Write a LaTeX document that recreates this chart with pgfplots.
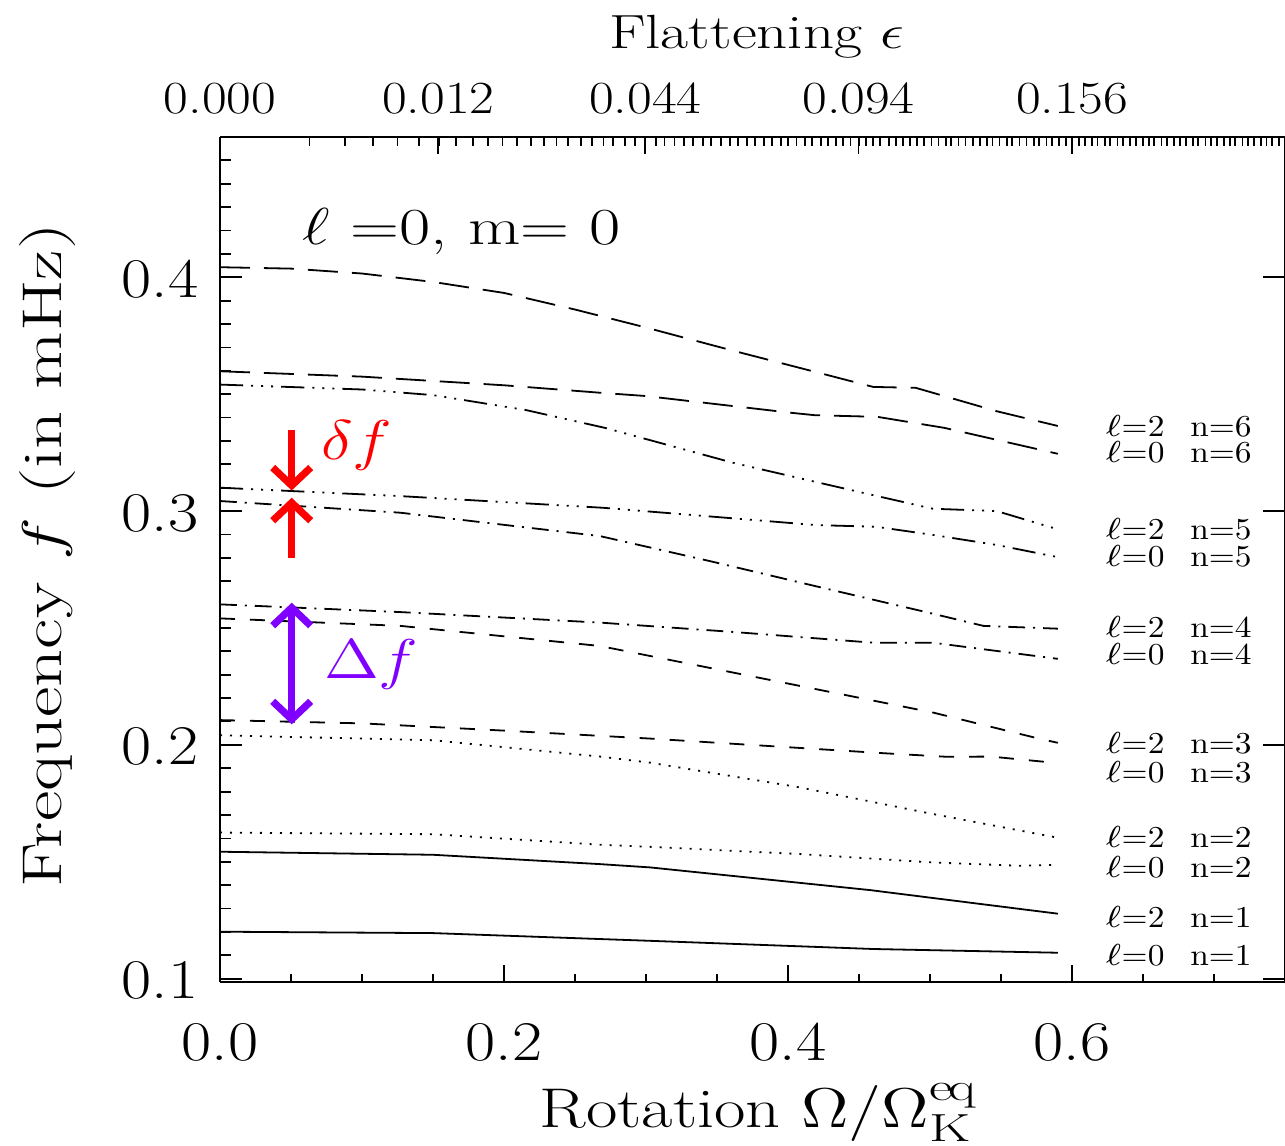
\RequirePackage{fix-cm}
\documentclass[border=0pt]{standalone}
\usepackage{fontspec}
\setmainfont{lmroman17-regular.otf}[FakeStretch=1.22]
\newfontfamily\tickfont{lmroman17-regular.otf}[FakeStretch=1.17]
\newfontfamily\ylabfont{lmroman17-regular.otf}[FakeStretch=1.33]
\newfontfamily\titfont{lmroman17-regular.otf}[FakeStretch=1.27]
\newfontfamily\labfont{lmroman10-regular.otf}[FakeStretch=1.1]
\usepackage{graphicx}
\usepackage{pgfplots}
\pgfplotsset{compat=1.18}
\usetikzlibrary{arrows.meta}
\definecolor{myred}{RGB}{255,0,0}
\definecolor{mypurple}{RGB}{128,0,255}
\newcommand\w[1]{\scalebox{1.2}[1]{#1}}
\newcommand\lab[2]{\scalebox{1.1}[1]{$\ell$}=#1\hspace{0.85em}n=#2}
\pgfplotsset{
  base/.style={
    scale only axis, width=266.25pt, height=211.3pt,
    xmin=0, xmax=0.75, ymin=0.0985, ymax=0.46,
    axis line style={line width=0.5pt, black},
    every tick/.style={line width=0.45pt, black},
    tick align=inside,
  },
  curve/.style={black, no markers, line width=0.45pt},
  ldash/.style={curve, dash pattern=on 7.5pt off 3.5pt},
  dddot/.style={curve, dash pattern=on 5.8pt off 2pt on 0.5pt off 2pt on 0.5pt off 2pt on 0.5pt off 2pt},
  ddot/.style={curve, dash pattern=on 4.2pt off 2pt on 0.5pt off 2pt},
  dsh/.style={curve, dash pattern=on 3.75pt off 3.75pt},
  dtt/.style={curve, dash pattern=on 0.5pt off 2pt},
}
\begin{document}
\begin{tikzpicture}
% ---- left y axis + data ----
\begin{axis}[base, axis y line*=left, hide x axis,
  ytick={0.1,0.2,0.3,0.4}, yticklabels={0.1,0.2,0.3,0.4},
  minor ytick={0.11,0.12,0.13,0.14,0.15,0.16,0.17,0.18,0.19,0.21,0.22,0.23,0.24,0.25,0.26,0.27,0.28,0.29,0.31,0.32,0.33,0.34,0.35,0.36,0.37,0.38,0.39,0.41,0.42,0.43,0.44,0.45},
  major tick length=5.5pt, minor tick length=2.75pt,
  yticklabel style={anchor=base east, inner sep=0pt, xshift=-5.25pt, yshift=-5pt, font=\tickfont\fontsize{14}{16}\selectfont},
  ylabel={Frequency \scalebox{1.3}[1]{$f$} (in mHz)},
  ylabel style={at={(axis description cs:-0.1484,0.505)}, anchor=base, font=\ylabfont\fontsize{14}{16}\selectfont},
]
% l=2 n=6
\addplot[ldash] coordinates {(0,0.4043)(0.05,0.4037)(0.1,0.4016)(0.15,0.3980)(0.2,0.3933)(0.25,0.3862)(0.3,0.3785)(0.36,0.3688)(0.42,0.3594)(0.46,0.3531)(0.49,0.3527)(0.547,0.3427)(0.59,0.3364)};
% l=0 n=6
\addplot[ldash] coordinates {(0,0.3598)(0.1,0.3575)(0.2,0.3538)(0.27,0.3505)(0.3,0.3492)(0.4028,0.3420)(0.419,0.3410)(0.463,0.3403)(0.51,0.3356)(0.59,0.3245)};
% l=2 n=5
\addplot[dddot] coordinates {(0,0.3541)(0.1,0.3520)(0.15,0.3496)(0.2155,0.3432)(0.271,0.3356)(0.361,0.3207)(0.42,0.3124)(0.46,0.3068)(0.502,0.3010)(0.547,0.3000)(0.59,0.2922)};
% l=0 n=5
\addplot[dddot] coordinates {(0,0.3100)(0.127,0.3064)(0.27,0.3014)(0.42,0.2940)(0.462,0.2933)(0.50,0.2900)(0.547,0.2855)(0.59,0.2803)};
% l=2 n=4
\addplot[ddot] coordinates {(0,0.3043)(0.127,0.2993)(0.2676,0.2893)(0.345,0.2786)(0.42,0.2678)(0.46,0.2621)(0.50,0.2564)(0.5376,0.2509)(0.59,0.2497)};
% l=0 n=4
\addplot[ddot] coordinates {(0,0.2601)(0.127,0.2568)(0.2676,0.2523)(0.3615,0.2483)(0.46,0.2437)(0.502,0.2437)(0.59,0.2368)};
% l=2 n=3
\addplot[dsh] coordinates {(0,0.2541)(0.127,0.2509)(0.2676,0.2423)(0.4085,0.2252)(0.5023,0.2138)(0.5786,0.2024)(0.59,0.2009)};
% l=0 n=3
\addplot[dsh] coordinates {(0,0.2106)(0.1,0.2092)(0.2,0.2061)(0.3028,0.2027)(0.4,0.1990)(0.4684,0.1964)(0.512,0.1949)(0.543,0.1950)(0.59,0.1922)};
% l=2 n=2
\addplot[dtt] coordinates {(0,0.2041)(0.15,0.2020)(0.2676,0.1950)(0.3028,0.1924)(0.4085,0.1818)(0.5023,0.1704)(0.59,0.1603)};
% l=0 n=2
\addplot[dtt] coordinates {(0,0.1625)(0.15,0.1618)(0.2676,0.1573)(0.3028,0.1564)(0.4085,0.1533)(0.5023,0.1497)(0.5634,0.1483)(0.59,0.1487)};
% l=2 n=1
\addplot[curve] coordinates {(0,0.1543)(0.15,0.1530)(0.2676,0.1490)(0.3028,0.1476)(0.4577,0.1379)(0.59,0.1278)};
% l=0 n=1
\addplot[curve] coordinates {(0,0.1201)(0.15,0.1195)(0.3028,0.1162)(0.46,0.1127)(0.59,0.1111)};
% annotations
\node[anchor=base west, inner sep=0pt, font=\fontsize{13}{15}\selectfont] at (axis cs:0.0577,0.4139) {\scalebox{1.07}[1]{\w{$\ell$} =0, m= 0}};
\draw[myred, line width=1.8pt, -{Straight Barb[length=4.5pt,width=9.5pt]}] (axis cs:0.0505,0.3346) -- (axis cs:0.0505,0.3088);
\draw[myred, line width=1.8pt, -{Straight Barb[length=4.5pt,width=9.5pt]}] (axis cs:0.0505,0.2800) -- (axis cs:0.0505,0.3057);
\draw[mypurple, line width=1.8pt, {Straight Barb[length=4.5pt,width=9.5pt]}-{Straight Barb[length=4.5pt,width=9.5pt]}] (axis cs:0.0505,0.2608) -- (axis cs:0.0505,0.2088);
\node[anchor=base west, text=myred, font=\fontsize{14}{16}\selectfont] at (axis cs:0.0613,0.3222) {\w{$\delta f$}};
\node[anchor=base west, text=mypurple, font=\fontsize{14}{16}\selectfont] at (axis cs:0.0634,0.2282) {\w{$\Delta f$}};
\begin{scope}[every node/.style={anchor=base west, inner sep=0pt, font=\labfont\fontsize{7.6}{9}\selectfont}]
\node at (axis cs:0.6232,0.3321) {\lab{2}{6}};
\node at (axis cs:0.6232,0.3206) {\lab{0}{6}};
\node at (axis cs:0.6232,0.2879) {\lab{2}{5}};
\node at (axis cs:0.6232,0.2765) {\lab{0}{5}};
\node at (axis cs:0.6232,0.2459) {\lab{2}{4}};
\node at (axis cs:0.6232,0.2345) {\lab{0}{4}};
\node at (axis cs:0.6232,0.1963) {\lab{2}{3}};
\node at (axis cs:0.6232,0.1839) {\lab{0}{3}};
\node at (axis cs:0.6232,0.1561) {\lab{2}{2}};
\node at (axis cs:0.6232,0.1433) {\lab{0}{2}};
\node at (axis cs:0.6232,0.1219) {\lab{2}{1}};
\node at (axis cs:0.6232,0.1056) {\lab{0}{1}};
\end{scope}
\end{axis}
% ---- bottom x axis ----
\begin{axis}[base, axis x line*=bottom, hide y axis,
  xtick={0,0.2,0.4,0.6}, xticklabels={0.0,0.2,0.4,0.6},
  minor xtick={0.05,0.1,0.15,0.25,0.3,0.35,0.45,0.5,0.55,0.65,0.7},
  major tick length=4.25pt, minor tick length=2.1pt,
  xticklabel style={anchor=base, inner sep=0pt, yshift=-19.5pt, font=\tickfont\fontsize{14}{16}\selectfont},
  xlabel={Rotation \w{$\Omega\big/\Omega^{\mathrm{eq}}_{\mathrm{K}}$}},
  xlabel style={at={(axis description cs:0.504,-0.172)}, anchor=base, font=\fontsize{14}{16}\selectfont},
]
\end{axis}
% ---- top x axis (flattening) ----
\begin{axis}[base, axis x line*=top, hide y axis,
  xtick={0,0.1538,0.2995,0.4496,0.6001}, xticklabels={0.000,0.012,0.044,0.094,0.156},
  minor xtick={0.063,0.088,0.108,0.125,0.140,0.154,0.166,0.178,0.189,0.199,0.209,0.219,0.228,0.237,0.245,0.254,0.262,0.270,0.277,0.285,0.292,0.299,0.307,0.313,0.320,0.327,0.333,0.340,0.346,0.353,0.359,0.365,0.371,0.377,0.383,0.389,0.395,0.400,0.406,0.412,0.417,0.423,0.428,0.434,0.439,0.444,0.450,0.455,0.460,0.465,0.471,0.476,0.481,0.486,0.491,0.496,0.501,0.506,0.511,0.515,0.520,0.525,0.530,0.535,0.540,0.544,0.549,0.554,0.558,0.563,0.568,0.573,0.577,0.582,0.586,0.591,0.596,0.600,0.605,0.609,0.614,0.618,0.623,0.627,0.632,0.636,0.641,0.645,0.650,0.654,0.658,0.663,0.667,0.672,0.676,0.680,0.685,0.689,0.694,0.698,0.702,0.707,0.711,0.715,0.720,0.724,0.728,0.733,0.737,0.741,0.746},
  major tick length=4.25pt, minor tick length=2.25pt,
  xticklabel style={anchor=base, inner sep=0pt, yshift=5.85pt, font=\tickfont\fontsize{11.5}{13}\selectfont},
  xlabel={Flattening \scalebox{1.25}[1]{$\epsilon$}},
  xlabel style={at={(axis description cs:0.504,1.105)}, anchor=base, font=\titfont\fontsize{12}{14}\selectfont},
]
\end{axis}
% ---- right y axis ----
\begin{axis}[base, axis y line*=right, hide x axis,
  ytick={0.1,0.2,0.3,0.4}, yticklabels={},
  major tick length=5.5pt,
]
\end{axis}
\pgfresetboundingbox
\path[use as bounding box] (-55pt,-40.75pt) rectangle (266.25pt,245.55pt);
\end{tikzpicture}
\end{document}
